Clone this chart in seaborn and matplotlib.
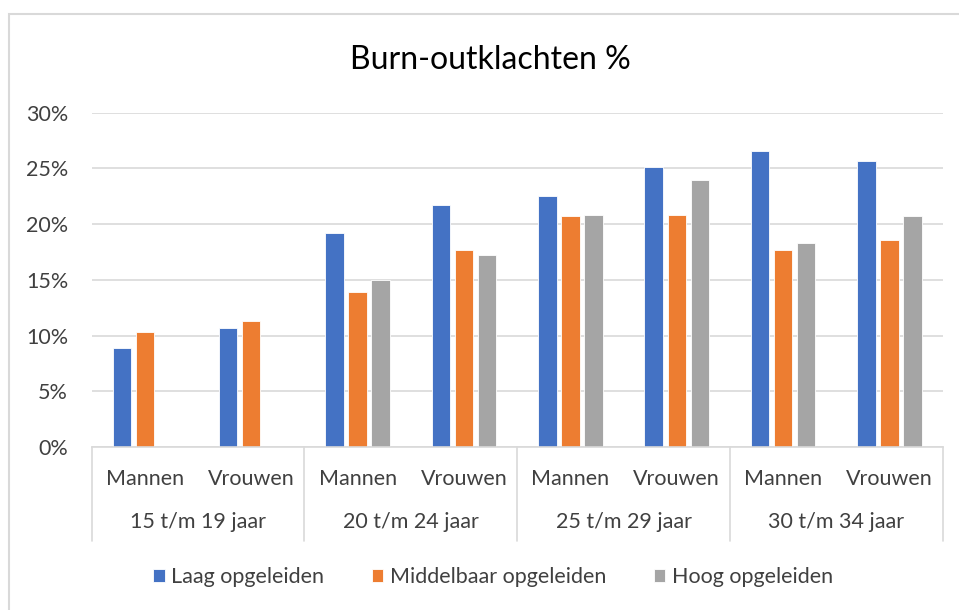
import matplotlib
matplotlib.use('Agg')
import matplotlib.pyplot as plt
import matplotlib.transforms as mtransforms
from matplotlib.patches import Rectangle
from matplotlib.ticker import PercentFormatter
import pandas as pd
import numpy as np
import seaborn as sns

# Data
age_groups = ['15 t/m 19 jaar', '20 t/m 24 jaar', '25 t/m 29 jaar', '30 t/m 34 jaar']
sexes = ['Mannen', 'Vrouwen']
levels = ['Laag opgeleiden', 'Middelbaar opgeleiden', 'Hoog opgeleiden']
laag = [8.9, 10.7, 19.25, 21.7, 22.5, 25.15, 26.6, 25.7]
middel = [10.3, 11.3, 13.95, 17.65, 20.75, 20.85, 17.65, 18.55]
hoog = [np.nan, np.nan, 15.0, 17.2, 20.85, 24.0, 18.35, 20.75]

# Long-form table
cats = [f'{a}|{s}' for a in age_groups for s in sexes]
rows = []
for name, vals in zip(levels, [laag, middel, hoog]):
    for c, v in zip(cats, vals):
        if not np.isnan(v):
            rows.append({'cat': c, 'niveau': name, 'pct': v / 100})
df = pd.DataFrame(rows)

colors = ['#4472C4', '#ED7D31', '#A5A5A5']
text_color = '#404040'
grid_color = '#D9D9D9'
fs = 15.5

sns.set_style('white')
plt.rcParams['font.family'] = ['Lato', 'DejaVu Sans']

fig = plt.figure(figsize=(9.59, 6.10), dpi=100)
ax = fig.add_axes([0.0956, 0.267, 0.983 - 0.0956, 0.8152 - 0.267])

sns.barplot(data=df, x='cat', y='pct', hue='niveau', order=cats, hue_order=levels,
            palette=colors, saturation=1, width=0.652, gap=0.2, edgecolor='white',
            linewidth=0.6, errorbar=None, legend=True, ax=ax)

ax.set_ylim(0, 0.30)
ax.set_xlim(-0.5, len(cats) - 0.5)
ax.set_yticks(np.arange(0, 0.301, 0.05))
ax.yaxis.set_major_formatter(PercentFormatter(1.0, decimals=0))
ax.yaxis.grid(True, color=grid_color, linewidth=1.2)
ax.set_axisbelow(True)
ax.set_xlabel('')
ax.set_ylabel('')
for s in ['top', 'right', 'left']:
    ax.spines[s].set_visible(False)
ax.spines['bottom'].set_color(grid_color)
ax.spines['bottom'].set_linewidth(1.2)

ax.set_xticks(range(len(cats)))
ax.set_xticklabels([c.split('|')[1] for c in cats])
ax.tick_params(axis='x', length=0, pad=16, labelsize=fs, labelcolor=text_color)
ax.tick_params(axis='y', length=0, pad=17, labelsize=fs, labelcolor=text_color)

# Second level of category labels and separators
trans = mtransforms.blended_transform_factory(ax.transData, ax.transAxes)
for i, a in enumerate(age_groups):
    ax.text(2 * i + 0.5, -0.224, a, transform=trans, ha='center', va='center',
            fontsize=fs, color=text_color)
for xb in np.arange(-0.5, len(cats), 2):
    ax.plot([xb, xb], [0, -0.28], transform=trans, color=grid_color,
            linewidth=1.2, clip_on=False)

fig.text(0.511, 1 - 60 / 610, 'Burn-outklachten %', fontsize=23, color='black',
         ha='center', va='center')

# Legend at the bottom
handles, labels = ax.get_legend_handles_labels()
ax.get_legend().remove()
fig.legend(handles, labels, loc='center', bbox_to_anchor=(0.514, 0.054), ncol=3,
           frameon=False, fontsize=fs, handlelength=0.55, handleheight=0.55,
           handletextpad=0.3, columnspacing=2.2, labelcolor=text_color)

# Chart area frame
fig.patches.append(Rectangle((9 / 959, -0.1), 1.2, 1 - 14 / 610 + 0.1,
                             transform=fig.transFigure, fill=False,
                             edgecolor=grid_color, linewidth=1.5))

fig.savefig('out.png', dpi=100)
